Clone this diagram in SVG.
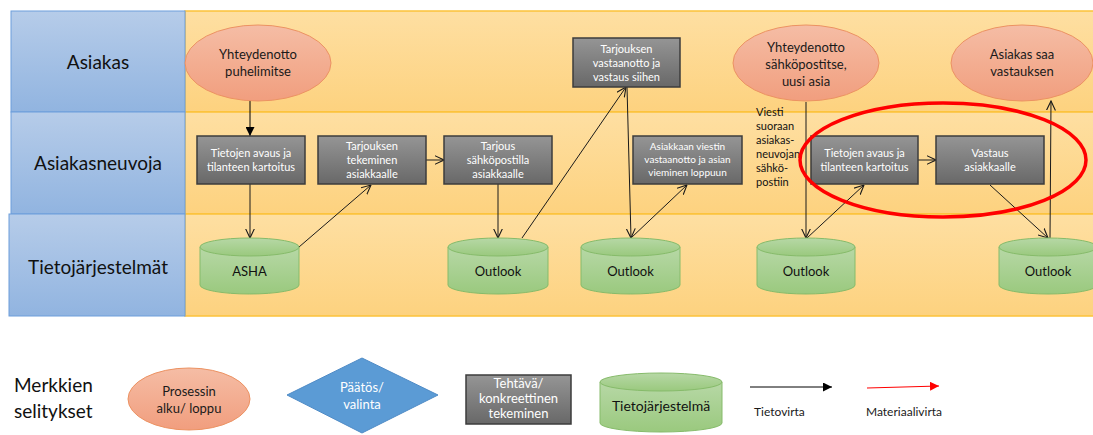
<svg xmlns="http://www.w3.org/2000/svg" width="1093" height="435" viewBox="0 0 1093 435">
  <defs>
    <linearGradient id="gLabel" x1="0" y1="0" x2="0" y2="1">
      <stop offset="0" stop-color="#b6cce9"/>
      <stop offset="1" stop-color="#91b4e0"/>
    </linearGradient>
    <linearGradient id="gLane" x1="0" y1="0" x2="0" y2="1">
      <stop offset="0" stop-color="#fedfa2"/>
      <stop offset="1" stop-color="#fdd27f"/>
    </linearGradient>
    <linearGradient id="gOval" x1="0" y1="0" x2="0" y2="1">
      <stop offset="0" stop-color="#f5bda5"/>
      <stop offset="1" stop-color="#f19e7e"/>
    </linearGradient>
    <linearGradient id="gTask" x1="0" y1="0" x2="0" y2="1">
      <stop offset="0" stop-color="#959595"/>
      <stop offset="1" stop-color="#686868"/>
    </linearGradient>
    <linearGradient id="gDb" x1="0" y1="0" x2="0" y2="1">
      <stop offset="0" stop-color="#b7d8a6"/>
      <stop offset="1" stop-color="#9ac97e"/>
    </linearGradient>
    <marker id="open" viewBox="0 0 10 10" refX="9.5" refY="5" markerWidth="10" markerHeight="10" markerUnits="userSpaceOnUse" orient="auto">
      <path d="M0,0.5 L9.5,5 L0,9.5" fill="none" stroke="#1a1a1a" stroke-width="1.1"/>
    </marker>
    <marker id="solid" viewBox="0 0 10 10" refX="10" refY="5" markerWidth="9" markerHeight="9" markerUnits="userSpaceOnUse" orient="auto">
      <path d="M0,0 L10,5 L0,10 Z" fill="#000"/>
    </marker>
    <marker id="solidRed" viewBox="0 0 10 10" refX="10" refY="5" markerWidth="9" markerHeight="9" markerUnits="userSpaceOnUse" orient="auto">
      <path d="M0,0 L10,5 L0,10 Z" fill="#ff0000"/>
    </marker>
  </defs>
  <style>
    text { font-family: Lato, "Liberation Sans", sans-serif; }
    .lbl { fill: url(#gLabel); stroke: #6d9edb; stroke-width: 1; }
    .lane { fill: url(#gLane); stroke: #fcc23a; stroke-width: 1.5; }
    .laneTxt { font-size: 19px; fill: #111; text-anchor: middle; }
    .oval { fill: url(#gOval); stroke: #ec9262; stroke-width: 1; }
    .ovalTxt { font-size: 13px; fill: #1a1a1a; text-anchor: middle; }
    .task { fill: url(#gTask); stroke: #3c3c3c; stroke-width: 1.5; }
    .taskTxt { font-size: 11px; fill: #fff; text-anchor: middle; }
    .taskSm { font-size: 10px; fill: #fff; text-anchor: middle; }
    .db { fill: url(#gDb); stroke: #86bb6a; stroke-width: 1; }
    .dbTxt { font-size: 13px; fill: #111; text-anchor: middle; }
    .note { font-size: 11px; fill: #111; }
    .flow { fill: none; stroke: #1a1a1a; stroke-width: 1; marker-end: url(#open); }
    .legTxt { font-size: 12px; fill: #1a1a1a; }
  </style>

  <!-- swimlanes -->
  <g id="lanes">
    <rect class="lane" x="185" y="11" width="912" height="101"/>
    <rect class="lane" x="185" y="112" width="912" height="102"/>
    <rect class="lane" x="185" y="214" width="912" height="102"/>
    <rect class="lbl" x="11" y="11" width="174" height="101"/>
    <rect class="lbl" x="11" y="112" width="174" height="102"/>
    <rect class="lbl" x="9" y="214" width="176" height="102"/>
    <text class="laneTxt" x="98" y="69">Asiakas</text>
    <text class="laneTxt" x="98" y="170">Asiakasneuvoja</text>
    <text class="laneTxt" x="98" y="274">Tietojärjestelmät</text>
  </g>

  <!-- connectors -->
  <g id="connectors">
    <line x1="250" y1="100" x2="250" y2="136" stroke="#000" stroke-width="1" marker-end="url(#solid)"/>
    <line class="flow" x1="250" y1="184" x2="250" y2="238"/>
    <line class="flow" x1="299" y1="247" x2="371" y2="185"/>
    <line class="flow" x1="426" y1="160" x2="444" y2="160"/>
    <line class="flow" x1="498" y1="184" x2="498" y2="238"/>
    <line class="flow" x1="522" y1="238" x2="626" y2="87"/>
    <line class="flow" x1="627" y1="87" x2="631" y2="238"/>
    <line class="flow" x1="631" y1="238" x2="687" y2="185"/>
    <line class="flow" x1="806" y1="102" x2="806" y2="238"/>
    <line class="flow" x1="807" y1="238" x2="864" y2="185"/>
    <line class="flow" x1="918" y1="160" x2="936" y2="160"/>
    <line class="flow" x1="990" y1="185" x2="1048" y2="238"/>
    <line class="flow" x1="1050" y1="238" x2="1051" y2="101"/>
  </g>

  <!-- Asiakas lane -->
  <g id="start-phone">
    <ellipse class="oval" cx="258" cy="63" rx="73" ry="38"/>
    <text class="ovalTxt" x="258" y="59">Yhteydenotto</text>
    <text class="ovalTxt" x="258" y="76">puhelimitse</text>
  </g>
  <g id="offer-reply">
    <rect class="task" x="573" y="38" width="107" height="49"/>
    <text class="taskTxt" x="626.5" y="53">Tarjouksen</text>
    <text class="taskTxt" x="626.5" y="67">vastaanotto ja</text>
    <text class="taskTxt" x="626.5" y="81">vastaus siihen</text>
  </g>
  <g id="start-email">
    <ellipse class="oval" cx="806" cy="63" rx="73" ry="38"/>
    <text class="ovalTxt" x="806" y="52">Yhteydenotto</text>
    <text class="ovalTxt" x="806" y="69">sähköpostitse,</text>
    <text class="ovalTxt" x="806" y="86">uusi asia</text>
  </g>
  <g id="end-answer">
    <ellipse class="oval" cx="1022" cy="63" rx="71" ry="38"/>
    <text class="ovalTxt" x="1022" y="59">Asiakas saa</text>
    <text class="ovalTxt" x="1022" y="76">vastauksen</text>
  </g>

  <!-- Asiakasneuvoja lane -->
  <g id="task-open-1">
    <rect class="task" x="197" y="136" width="108" height="48"/>
    <text class="taskTxt" x="251" y="157">Tietojen avaus ja</text>
    <text class="taskTxt" x="251" y="171">tilanteen kartoitus</text>
  </g>
  <g id="task-offer">
    <rect class="task" x="318" y="136" width="108" height="48"/>
    <text class="taskTxt" x="372" y="150">Tarjouksen</text>
    <text class="taskTxt" x="372" y="164">tekeminen</text>
    <text class="taskTxt" x="372" y="178">asiakkaalle</text>
  </g>
  <g id="task-send">
    <rect class="task" x="444" y="136" width="108" height="48"/>
    <text class="taskTxt" x="498" y="150">Tarjous</text>
    <text class="taskTxt" x="498" y="164">sähköpostilla</text>
    <text class="taskTxt" x="498" y="178">asiakkaalle</text>
  </g>
  <g id="task-finish">
    <rect class="task" x="633" y="136" width="109" height="48"/>
    <text class="taskSm" x="687.5" y="150">Asiakkaan viestin</text>
    <text class="taskSm" x="687.5" y="163">vastaanotto ja asian</text>
    <text class="taskSm" x="687.5" y="176">vieminen loppuun</text>
  </g>
  <g id="note-direct">
    <text class="note" x="756" y="116">Viesti</text>
    <text class="note" x="756" y="130">suoraan</text>
    <text class="note" x="756" y="144">asiakas-</text>
    <text class="note" x="756" y="158">neuvojan</text>
    <text class="note" x="756" y="172">sähkö-</text>
    <text class="note" x="756" y="186">postiin</text>
  </g>
  <g id="task-open-2">
    <rect class="task" x="811" y="136" width="107" height="48"/>
    <text class="taskTxt" x="864.5" y="157">Tietojen avaus ja</text>
    <text class="taskTxt" x="864.5" y="171">tilanteen kartoitus</text>
  </g>
  <g id="task-answer">
    <rect class="task" x="936" y="136" width="108" height="48"/>
    <text class="taskTxt" x="990" y="157">Vastaus</text>
    <text class="taskTxt" x="990" y="171">asiakkaalle</text>
  </g>
  <g id="highlight">
    <ellipse cx="943" cy="160" rx="143" ry="57" fill="none" stroke="#ff0000" stroke-width="3.5"/>
  </g>

  <!-- Tietojärjestelmät lane -->
  <g id="db-asha">
    <path class="db" d="M200,247 L200,285 A49.5,9 0 0 0 299,285 L299,247 Z"/>
    <ellipse class="db" cx="249.5" cy="247" rx="49.5" ry="9"/>
    <text class="dbTxt" x="249.5" y="276" font-size="12">ASHA</text>
  </g>
  <g id="db-outlook-1">
    <path class="db" d="M448,247 L448,285 A50,9 0 0 0 548,285 L548,247 Z"/>
    <ellipse class="db" cx="498" cy="247" rx="50" ry="9"/>
    <text class="dbTxt" x="498" y="276">Outlook</text>
  </g>
  <g id="db-outlook-2">
    <path class="db" d="M581,247 L581,285 A49.5,9 0 0 0 680,285 L680,247 Z"/>
    <ellipse class="db" cx="630.5" cy="247" rx="49.5" ry="9"/>
    <text class="dbTxt" x="630.5" y="276">Outlook</text>
  </g>
  <g id="db-outlook-3">
    <path class="db" d="M757,247 L757,285 A49,9 0 0 0 855,285 L855,247 Z"/>
    <ellipse class="db" cx="806" cy="247" rx="49" ry="9"/>
    <text class="dbTxt" x="806" y="276">Outlook</text>
  </g>
  <g id="db-outlook-4">
    <path class="db" d="M999,247 L999,285 A49,9 0 0 0 1097,285 L1097,247 Z"/>
    <ellipse class="db" cx="1048" cy="247" rx="49" ry="9"/>
    <text class="dbTxt" x="1048" y="276">Outlook</text>
  </g>

  <!-- legend -->
  <g id="legend">
    <text x="14" y="392" font-size="19" fill="#111">Merkkien</text>
    <text x="14" y="418" font-size="19" fill="#111">selitykset</text>

    <ellipse class="oval" cx="189" cy="399" rx="61" ry="31"/>
    <text class="ovalTxt" x="189" y="396" font-size="13">Prosessin</text>
    <text class="ovalTxt" x="189" y="413" font-size="13">alku/ loppu</text>

    <path d="M362,358 L438,395 L362,433 L287,395 Z" fill="#5b9bd5" stroke="#4f8bc6" stroke-width="1"/>
    <text x="362" y="392" font-size="13" fill="#fff" text-anchor="middle">Päätös/</text>
    <text x="362" y="409" font-size="13" fill="#fff" text-anchor="middle">valinta</text>

    <rect class="task" x="466" y="375" width="105" height="49"/>
    <text x="518.5" y="388" font-size="13" fill="#fff" text-anchor="middle">Tehtävä/</text>
    <text x="518.5" y="403" font-size="13" fill="#fff" text-anchor="middle">konkreettinen</text>
    <text x="518.5" y="418" font-size="13" fill="#fff" text-anchor="middle">tekeminen</text>

    <path class="db" d="M600,382 L600,423 A61,9 0 0 0 722,423 L722,382 Z"/>
    <ellipse class="db" cx="661" cy="382" rx="61" ry="9"/>
    <text x="661" y="411" font-size="14" fill="#111" text-anchor="middle">Tietojärjestelmä</text>

    <line x1="750" y1="387" x2="832" y2="387" stroke="#000" stroke-width="1" marker-end="url(#solid)"/>
    <text class="legTxt" x="754" y="416">Tietovirta</text>

    <line x1="867" y1="388" x2="939" y2="386" stroke="#ff0000" stroke-width="1" marker-end="url(#solidRed)"/>
    <text class="legTxt" x="866" y="416">Materiaalivirta</text>
  </g>
</svg>
